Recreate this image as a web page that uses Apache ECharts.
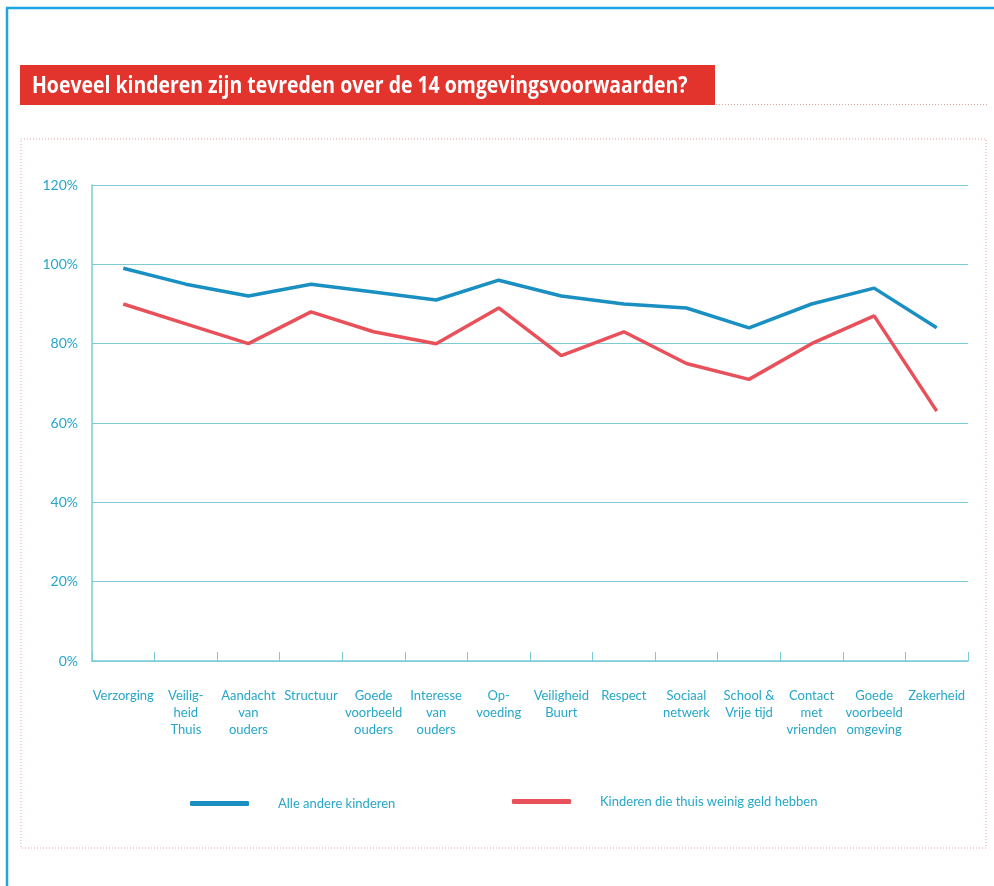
<!DOCTYPE html>
<html>
<head>
<meta charset="utf-8">
<script src="https://cdn.jsdelivr.net/npm/echarts@6/dist/echarts.min.js"></script>
<style>
html,body{margin:0;padding:0;background:#fff;}
#main{width:994px;height:886px;}
</style>
</head>
<body>
<div id="main"></div>
<script>
const titleText = 'Hoeveel kinderen zijn tevreden over de 14 omgevingsvoorwaarden?';
const categories = ['Verzorging', 'Veilig-\nheid\nThuis', 'Aandacht\nvan\nouders', 'Structuur', 'Goede\nvoorbeeld\nouders', 'Interesse\nvan\nouders', 'Op-\nvoeding', 'Veiligheid\nBuurt', 'Respect', 'Sociaal\nnetwerk', 'School &\nVrije tijd', 'Contact\nmet\nvrienden', 'Goede\nvoorbeeld\nomgeving', 'Zekerheid'];
const seriesNames = ['Alle andere kinderen', 'Kinderen die thuis weinig geld hebben'];
const alleAndere = [99, 95, 92, 95, 93, 91, 96, 92, 90, 89, 84, 90, 94, 84];
const weinigGeld = [90, 85, 80, 88, 83, 80, 89, 77, 83, 75, 71, 80, 87, 63];
const yTicks = [0, 20, 40, 60, 80, 100, 120];

const chart = echarts.init(document.getElementById('main'), null, {renderer: 'canvas'});
const txtColor = '#26a7c8';
const axisColor = '#7ccbd8';
const font = 'Lato, "Noto Sans", sans-serif';

chart.setOption({
  animation: false,
  backgroundColor: '#ffffff',
  grid: {left: 92, right: 26, top: 185, bottom: 225, containLabel: false},
  xAxis: {
    type: 'category',
    data: categories,
    boundaryGap: true,
    axisLine: {show: true, lineStyle: {color: axisColor, width: 1.5}},
    axisTick: {show: true, inside: true, length: 9, alignWithLabel: false, lineStyle: {color: axisColor, width: 1}},
    axisLabel: {color: txtColor, fontFamily: font, fontSize: 13, lineHeight: 17, margin: 26, interval: 0, align: 'center'},
    splitLine: {show: false}
  },
  yAxis: {
    type: 'value',
    min: yTicks[0],
    max: yTicks[yTicks.length - 1],
    interval: 20,
    axisLine: {show: true, lineStyle: {color: axisColor, width: 1.5}},
    axisTick: {show: false},
    axisLabel: {color: txtColor, fontFamily: font, fontSize: 14, margin: 14, formatter: '{value}%'},
    splitLine: {show: true, lineStyle: {color: axisColor, width: 1}}
  },
  legend: [
    {
      data: [seriesNames[0]], left: 190, top: 797, padding: 0, icon: 'roundRect', itemWidth: 59, itemHeight: 5,
      textStyle: {color: txtColor, fontFamily: font, fontSize: 13, padding: [0, 0, 0, 24]}
    },
    {
      data: [seriesNames[1]], left: 512, top: 795, padding: 0, icon: 'roundRect', itemWidth: 59, itemHeight: 5,
      textStyle: {color: txtColor, fontFamily: font, fontSize: 13, padding: [0, 0, 0, 24]}
    }
  ],
  series: [
    {name: seriesNames[0], type: 'line', data: alleAndere, symbol: 'none', color: '#1a8fc2',
     lineStyle: {width: 3.5, color: '#1a8fc2'}},
    {name: seriesNames[1], type: 'line', data: weinigGeld, symbol: 'none', color: '#e8515a',
     lineStyle: {width: 3.5, color: '#e8515a'}}
  ],
  graphic: [
    {type: 'line', shape: {x1: 7, y1: 8, x2: 7, y2: 886}, style: {stroke: '#1ea5e6', lineWidth: 2.5}},
    {type: 'line', shape: {x1: 6, y1: 8, x2: 994, y2: 8}, style: {stroke: '#1ea5e6', lineWidth: 2.5}},
    {type: 'rect', shape: {x: 20, y: 65, width: 695, height: 40}, style: {fill: '#e2342d'}},
    {type: 'text', x: 32, y: 86, scaleX: 0.81, style: {text: titleText, fill: '#ffffff', font: 'bold 24px "Open Sans", sans-serif', verticalAlign: 'middle'}},
    {type: 'line', shape: {x1: 716, y1: 104.5, x2: 987, y2: 104.5}, style: {stroke: '#e8a3a3', lineWidth: 1, lineDash: [1, 2]}},
    {type: 'rect', shape: {x: 21, y: 139, width: 965, height: 709}, style: {fill: 'none', stroke: '#e8a3a3', lineWidth: 1, lineDash: [1, 2]}}
  ]
});
</script>
</body>
</html>
